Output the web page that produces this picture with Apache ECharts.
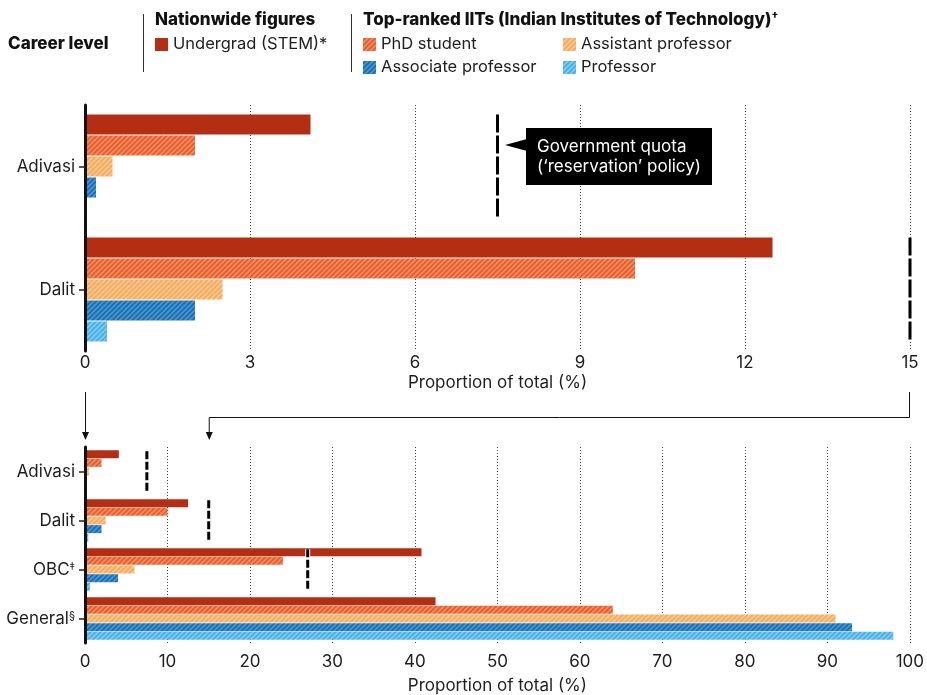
<!DOCTYPE html>
<html>
<head>
<meta charset="utf-8">
<script src="https://cdn.jsdelivr.net/npm/echarts@6/dist/echarts.min.js"></script>
<style>
html,body{margin:0;padding:0;background:#fff;}
#chart{width:927px;height:695px;}
</style>
</head>
<body>
<div id="chart"></div>
<script>
// ---- data ----
const categories = ['Adivasi', 'Dalit', 'OBC‡', 'General§'];
const undergrad = [4.1, 12.5, 40.8, 42.5];
const phd = [2.0, 10.0, 24.0, 64.0];
const assistant = [0.5, 2.5, 6.0, 91.0];
const associate = [0.2, 2.0, 4.0, 93.0];
const professor = [0, 0.4, 0.6, 98.0];
const quota = [7.5, 15, 27, null];
const topCount = 2; // top panel shows first two groups
const topAxis = { min: 0, max: 15, interval: 3 };
const bottomAxis = { min: 0, max: 100, interval: 10 };

const FONT = 'Inter, Roboto, "Noto Sans", sans-serif';
const TXT = '#1e1e1e';

function makePattern(base, stripe) {
  const s = 5;
  const c = document.createElement('canvas');
  c.width = s; c.height = s;
  const g = c.getContext('2d');
  g.fillStyle = base; g.fillRect(0, 0, s, s);
  g.strokeStyle = stripe; g.lineWidth = 1.7;
  for (const k of [0, s, 2 * s]) {
    g.beginPath(); g.moveTo(k + 1, -1); g.lineTo(k - s - 1, s + 1); g.stroke();
  }
  return { image: c, repeat: 'repeat' };
}

const seriesDefs = [
  { name: 'Undergrad (STEM)*', data: undergrad, color: '#b32e13' },
  { name: 'PhD student', data: phd, color: makePattern('#e85d2b', '#f28d62') },
  { name: 'Assistant professor', data: assistant, color: makePattern('#f5aa5c', '#f9c890') },
  { name: 'Associate professor', data: associate, color: makePattern('#1670b4', '#4e95cd') },
  { name: 'Professor', data: professor, color: makePattern('#45b0e5', '#80cbf0') }
];

function fmtCat(v) {
  const last = v.slice(-1);
  if (last === '‡' || last === '§') return v.slice(0, -1) + '{s|' + last + '}';
  return v;
}

function quotaRender(dash, frac) {
  return function (params, api) {
    const p = api.coord([api.value(0), api.value(1)]);
    const band = api.size([0, 1])[1];
    const h = band * frac / 2;
    const shape = { x1: p[0], y1: p[1] - h, x2: p[0], y2: p[1] + h };
    return {
      type: 'group',
      children: [
        { type: 'line', shape: shape, style: { stroke: '#fff', lineWidth: 5 } },
        { type: 'line', shape: shape, style: { stroke: '#000', lineWidth: 3, lineDash: dash } }
      ]
    };
  };
}

const quotaTop = quota.slice(0, topCount).map((q, i) => q == null ? null : [q, i]).filter(Boolean);
const quotaBottom = quota.map((q, i) => q == null ? null : [q, i]).filter(Boolean);

function xAxisCfg(idx, ax, margin, nameGap) {
  return {
    type: 'value', gridIndex: idx, min: ax.min, max: ax.max, interval: ax.interval,
    axisLine: { show: false }, axisTick: { show: false },
    splitLine: { show: true, lineStyle: { color: '#444', width: 1, type: [1, 2] } },
    axisLabel: { fontSize: 17, color: TXT, fontFamily: FONT, margin: margin,
      formatter: v => v === 0 ? '0' : String(v) },
    name: 'Proportion of total (%)', nameLocation: 'middle', nameGap: nameGap,
    nameTextStyle: { fontSize: 17, color: TXT, fontFamily: FONT }
  };
}
function yAxisCfg(idx, data) {
  return {
    type: 'category', gridIndex: idx, data: data, inverse: true, z: 5,
    axisLine: { show: true, lineStyle: { color: '#111', width: 3 } },
    axisTick: { show: true, alignWithLabel: true, length: 6, lineStyle: { color: '#222', width: 1.5 } },
    axisLabel: { fontSize: 17, color: TXT, fontFamily: FONT, margin: 10,
      formatter: fmtCat,
      rich: { s: { fontSize: 11, verticalAlign: 'top', color: TXT, fontFamily: FONT, padding: [0, 0, 6, 0] } } }
  };
}

const series = [];
seriesDefs.forEach(d => {
  series.push({
    type: 'bar', name: d.name, xAxisIndex: 0, yAxisIndex: 0,
    data: d.data.slice(0, topCount), barWidth: 20, barGap: '5%',
    itemStyle: { color: d.color }, silent: true
  });
  series.push({
    type: 'bar', name: d.name, xAxisIndex: 1, yAxisIndex: 1,
    data: d.data, barWidth: 8, barGap: '8%',
    itemStyle: { color: d.color }, silent: true
  });
});
series.push({ type: 'custom', name: 'quotaTop', xAxisIndex: 0, yAxisIndex: 0, z: 10, clip: false,
  data: quotaTop, renderItem: quotaRender([18, 3], 0.845), silent: true });
series.push({ type: 'custom', name: 'quotaBottom', xAxisIndex: 1, yAxisIndex: 1, z: 10, clip: false,
  data: quotaBottom, renderItem: quotaRender([8, 2.5], 0.83), silent: true });

const legendBase = {
  icon: 'rect', itemWidth: 13, itemHeight: 13, selectedMode: false, padding: 0,
  textStyle: { fontSize: 16.5, color: TXT, fontFamily: FONT }, orient: 'vertical', itemGap: 6
};

const headFont = '800 17px ' + FONT;
const graphics = [
  { type: 'text', x: 8, y: 44, style: { text: 'Career level', font: headFont, fill: '#111', verticalAlign: 'middle' } },
  { type: 'line', shape: { x1: 143.5, y1: 14, x2: 143.5, y2: 72 }, style: { stroke: '#333', lineWidth: 1 } },
  { type: 'text', x: 155, y: 20, style: { text: 'Nationwide figures', font: headFont, fill: '#111', verticalAlign: 'middle' } },
  { type: 'line', shape: { x1: 351.5, y1: 14, x2: 351.5, y2: 72 }, style: { stroke: '#333', lineWidth: 1 } },
  { type: 'text', x: 363, y: 20, style: { text: 'Top-ranked IITs (Indian Institutes of Technology){s|†}', font: headFont, fill: '#111', verticalAlign: 'middle',
      rich: { s: { font: '800 11px ' + FONT, fill: '#111', verticalAlign: 'top', padding: [0, 0, 6, 0] } } } },
  // annotation
  { type: 'rect', shape: { x: 526, y: 128, width: 186, height: 57 }, style: { fill: '#000' } },
  { type: 'polygon', shape: { points: [[505, 145], [527, 139], [527, 151]] }, style: { fill: '#000' } },
  { type: 'text', x: 537, y: 147, style: { text: 'Government quota', font: '17px ' + FONT, fill: '#fff', verticalAlign: 'middle' } },
  { type: 'text', x: 537, y: 167, style: { text: '(‘reservation’ policy)', font: '17px ' + FONT, fill: '#fff', verticalAlign: 'middle' } }
];

const option = {
  animation: false,
  backgroundColor: '#fff',
  grid: [
    { left: 85, width: 825, top: 105, height: 246, containLabel: false },
    { left: 85, width: 825, top: 447, height: 197, containLabel: false }
  ],
  xAxis: [xAxisCfg(0, topAxis, 3, 23), xAxisCfg(1, bottomAxis, 10, 34)],
  yAxis: [yAxisCfg(0, categories.slice(0, topCount)), yAxisCfg(1, categories)],
  legend: [
    Object.assign({}, legendBase, { left: 155, top: 36, data: ['Undergrad (STEM)*'] }),
    Object.assign({}, legendBase, { left: 363, top: 36, data: ['PhD student', 'Associate professor'] }),
    Object.assign({}, legendBase, { left: 563, top: 36, data: ['Assistant professor', 'Professor'] })
  ],
  series: series,
  graphic: graphics
};

const chart = echarts.init(document.getElementById('chart'), null, { renderer: 'canvas' });
chart.setOption(option);

// connector arrows from top panel scale to bottom panel scale
const x0Top = chart.convertToPixel({ xAxisIndex: 0 }, topAxis.min);
const xMaxTop = chart.convertToPixel({ xAxisIndex: 0 }, topAxis.max);
const xMaxBot = chart.convertToPixel({ xAxisIndex: 1 }, topAxis.max);
const yA = 392, yMid = 417, yB = 440;
function head(x, y) {
  return { type: 'polygon', shape: { points: [[x - 3.5, y - 8], [x + 3.5, y - 8], [x, y]] }, style: { fill: '#111' } };
}
chart.setOption({
  graphic: graphics.concat([
    { type: 'polyline', shape: { points: [[x0Top + 0.5, yA], [x0Top + 0.5, yB - 6]] }, style: { stroke: '#111', lineWidth: 1, fill: null } },
    head(x0Top + 0.5, yB),
    { type: 'polyline', shape: { points: [[xMaxTop - 0.5, yA], [xMaxTop - 0.5, yMid + 0.5], [xMaxBot + 0.5, yMid + 0.5], [xMaxBot + 0.5, yB - 6]] }, style: { stroke: '#111', lineWidth: 1, fill: null } },
    head(xMaxBot + 0.5, yB)
  ])
}, { replaceMerge: ['graphic'] });
</script>
</body>
</html>
